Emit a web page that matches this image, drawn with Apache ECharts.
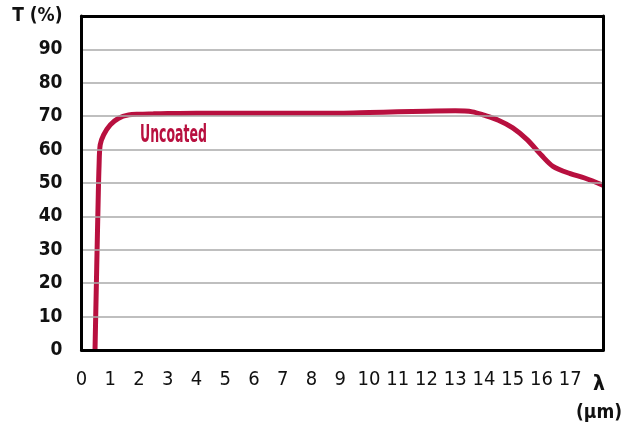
<!DOCTYPE html>
<html><head><meta charset="utf-8">
<script src="https://cdn.jsdelivr.net/npm/echarts@6/dist/echarts.min.js"></script>
<style>html,body{margin:0;padding:0;background:#fff}#c{width:625px;height:432px}</style>
</head><body><div id="c"></div>
<script>
var wavelength = [0.47, 0.53, 0.58, 0.61, 0.65, 0.77, 1.0, 1.29, 1.64, 2.0, 2.5, 3, 4, 5, 6, 7, 8, 9, 10, 11, 12, 13, 13.6, 14, 14.5, 15, 15.5, 16, 16.4, 17, 17.5, 18.15];
var transmittance = [0, 25, 45, 55, 61.4, 64.4, 67.4, 69.4, 70.4, 70.6, 70.7, 70.8, 70.9, 70.9, 70.9, 70.9, 70.9, 70.9, 71.1, 71.3, 71.5, 71.6, 71.3, 70.3, 68.8, 66.5, 63, 58.3, 55, 52.8, 51.5, 49.3];
var seriesName = 'Uncoated';
var yTitle = 'T (%)';
var xEndLabel = 'λ';
var xUnit = '(µm)';
var yTicks = [0, 10, 20, 30, 40, 50, 60, 70, 80, 90, 100];
var xTicks = [0, 1, 2, 3, 4, 5, 6, 7, 8, 9, 10, 11, 12, 13, 14, 15, 16, 17, 18];

var FONT = '"Liberation Sans Narrow", "DejaVu Sans Condensed", sans-serif';
var RED = '#b8103f';
var FRAME = {show: true, onZero: false, lineStyle: {color: '#000', width: 3}};
var chart = echarts.init(document.getElementById('c'), null, {renderer: 'canvas'});
var data = wavelength.map(function (x, i) { return [x, transmittance[i]]; });
chart.setOption({
  animation: false,
  backgroundColor: '#fff',
  grid: {left: 81.5, top: 16, right: 19.5, bottom: 82, containLabel: false},
  xAxis: [{
    type: 'value', min: 0, max: 18.15, interval: 1, position: 'bottom', z: 10,
    axisLine: FRAME, axisTick: {show: false}, splitLine: {show: false},
    axisLabel: {
      margin: 20, color: '#111', fontFamily: FONT, fontSize: 20,
      formatter: function (v) {
        if (Math.abs(v - Math.round(v)) > 1e-6) return '';
        var r = Math.round(v);
        if (xTicks.indexOf(r) < 0) return '';
        if (r === 18) return '{a|' + xEndLabel + '}\n{b|' + xUnit + '}';
        return String(r);
      },
      rich: {
        a: {fontFamily: FONT, fontSize: 21, fontWeight: 'bold', color: '#111', lineHeight: 29, align: 'center'},
        b: {fontFamily: FONT, fontSize: 19, fontWeight: 'bold', color: '#111', lineHeight: 29, align: 'center'}
      }
    }
  }, {
    type: 'value', min: 0, max: 18.15, position: 'top', z: 10,
    axisLine: FRAME, axisTick: {show: false}, axisLabel: {show: false}, splitLine: {show: false}
  }],
  yAxis: [{
    type: 'value', min: 0, max: 100, interval: 10, position: 'left', z: 10,
    axisLine: FRAME, axisTick: {show: false},
    splitLine: {show: true, lineStyle: {color: '#aaaaaa', width: 1.5}},
    axisLabel: {
      margin: 19, color: '#111', fontFamily: FONT, fontSize: 19, fontWeight: 'bold',
      formatter: function (v) {
        if (yTicks.indexOf(v) < 0) return '';
        return v === 100 ? yTitle : String(v);
      }
    }
  }, {
    type: 'value', min: 0, max: 100, position: 'right', z: 10,
    axisLine: FRAME, axisTick: {show: false}, axisLabel: {show: false}, splitLine: {show: false}
  }],
  series: [{
    name: seriesName, type: 'line', data: data, showSymbol: false,
    smooth: 0.3,
    lineStyle: {color: RED, width: 5}, z: 5
  }],
  graphic: [{
    type: 'text', left: 140, top: 124, z: 10,
    scaleX: 0.58,
    style: {text: seriesName, fill: RED, font: 'bold 24px ' + FONT}
  }]
});
</script></body></html>
